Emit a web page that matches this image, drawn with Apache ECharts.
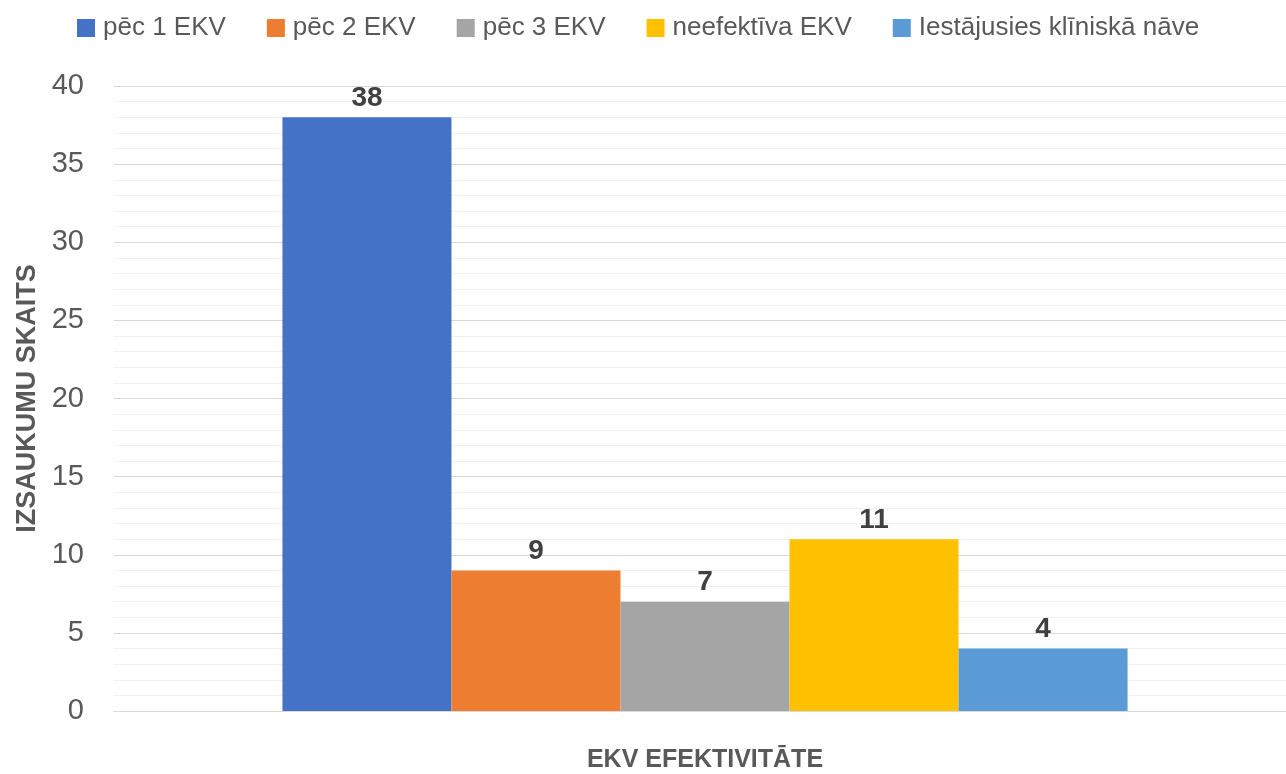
<!DOCTYPE html>
<html>
<head>
<meta charset="utf-8">
<script src="https://cdn.jsdelivr.net/npm/echarts@6/dist/echarts.min.js"></script>
<style>html,body{margin:0;padding:0;background:#fff}#c{width:1286px;height:774px}</style>
</head>
<body>
<div id="c"></div>
<script>
const categories = [''];
const seriesNames = ['pēc 1 EKV', 'pēc 2 EKV', 'pēc 3 EKV', 'neefektīva EKV', 'Iestājusies klīniskā nāve'];
const seriesValues = [[38], [9], [7], [11], [4]];
const colors = ['#4472C4', '#ED7D31', '#A5A5A5', '#FFC000', '#5B9BD5'];
const yTicks = { min: 0, max: 40, interval: 5 };
const xTitle = 'EKV EFEKTIVITĀTE';
const yTitle = 'IZSAUKUMU SKAITS';

const font = 'Liberation Sans';
const chart = echarts.init(document.getElementById('c'));
chart.setOption({
  animation: false,
  textStyle: { fontFamily: font },
  legend: {
    top: 10, left: 72,
    itemWidth: 18, itemHeight: 18, itemGap: 41,
    icon: 'rect',
    textStyle: { fontSize: 26, color: '#595959', fontFamily: font, padding: [0, 0, 0, 3] },
    data: seriesNames
  },
  grid: { left: 114, width: 1182, top: 86, bottom: 63, outerBoundsMode: 'none', containLabel: false },
  xAxis: {
    type: 'category', data: categories,
    axisLine: { show: true, lineStyle: { color: '#d9d9d9', width: 1 } },
    axisTick: { show: false }, axisLabel: { show: false },
    name: xTitle, nameLocation: 'middle', nameGap: 37,
    nameTextStyle: { fontSize: 25, fontWeight: 'bold', color: '#595959', fontFamily: font }
  },
  yAxis: {
    type: 'value', min: yTicks.min, max: yTicks.max, interval: yTicks.interval,
    axisLine: { show: false }, axisTick: { show: false },
    axisLabel: { fontSize: 29, color: '#595959', margin: 30, fontFamily: font },
    splitLine: { lineStyle: { color: '#d9d9d9', width: 1 } },
    minorTick: { show: false, splitNumber: 5 },
    minorSplitLine: { show: true, lineStyle: { color: '#f0f0f0', width: 1 } },
    name: yTitle, nameLocation: 'middle', nameGap: 72,
    nameTextStyle: { fontSize: 27, fontWeight: 'bold', color: '#595959', fontFamily: font }
  },
  series: seriesNames.map((n, i) => ({
    name: n, type: 'bar', data: seriesValues[i],
    barGap: '0%', barCategoryGap: '28.5%',
    itemStyle: { color: colors[i] },
    label: { show: true, position: 'top', distance: 5, fontSize: 28, fontWeight: 'bold', color: '#404040', fontFamily: font }
  }))
});
</script>
</body>
</html>
